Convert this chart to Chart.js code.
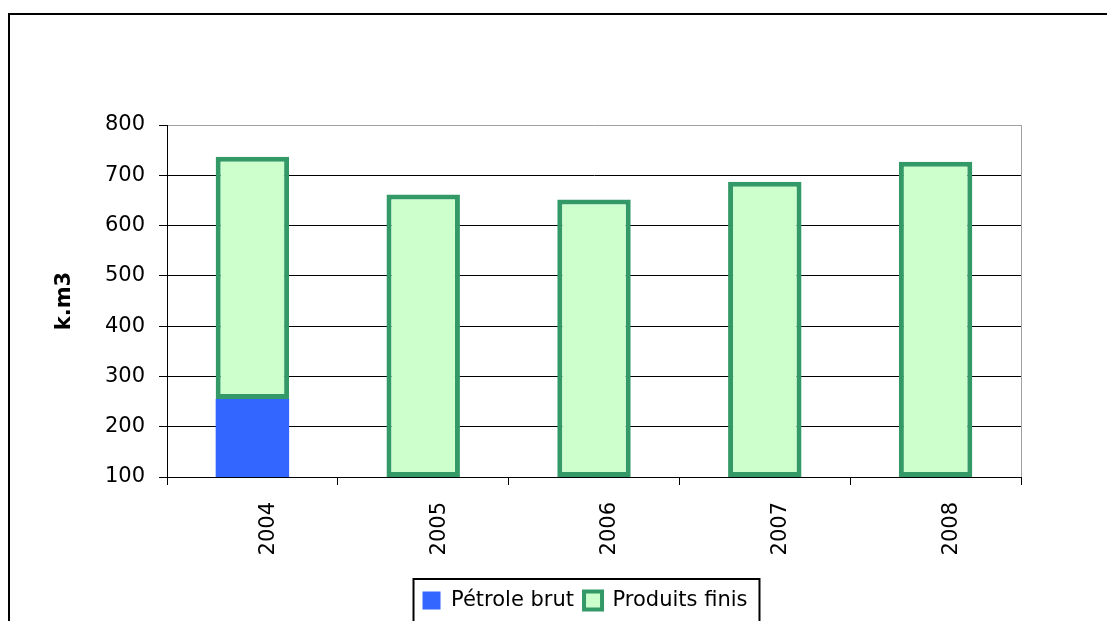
<!DOCTYPE html>
<html>
<head>
<meta charset="utf-8">
<script src="https://cdn.jsdelivr.net/npm/chart.js@4/dist/chart.umd.min.js"></script>
<style>
  html, body { margin: 0; padding: 0; background: #fff; }
  #wrap { width: 1107px; height: 621px; }
</style>
</head>
<body>
<div id="wrap"><canvas id="chart" width="1107" height="621"></canvas></div>
<script>
var years = ['2004', '2005', '2006', '2007', '2008'];
var petroleBrut = [255, 0, 0, 0, 0];
var produitsFinis = [482, 662, 652, 687, 727];
var yTicks = [100, 200, 300, 400, 500, 600, 700, 800];

var yMin = yTicks[0];
var yMax = yTicks[yTicks.length - 1];

// the axis starts at 100, so stacked bars are built as floating bars to keep their full border
var brutBars = petroleBrut.map(function (v) {
  return v > yMin ? [yMin, v] : null;
});
var finisBars = produitsFinis.map(function (v, i) {
  return [Math.max(petroleBrut[i], yMin), petroleBrut[i] + v];
});

Chart.defaults.font.family = "'DejaVu Sans', sans-serif";
Chart.defaults.font.size = 21;
Chart.defaults.color = '#000';

var framePlugin = {
  id: 'frame',
  afterLayout: function (chart) {
    // legend sits a little left of the plot centre
    chart.legend.left -= 9;
    chart.legend.right -= 9;
  },
  beforeDraw: function (chart) {
    var ctx = chart.ctx;
    ctx.save();
    ctx.fillStyle = '#fff';
    ctx.fillRect(0, 0, chart.width, chart.height);
    ctx.strokeStyle = '#000';
    ctx.lineWidth = 2;
    ctx.beginPath();
    ctx.moveTo(9, chart.height);
    ctx.lineTo(9, 14);
    ctx.lineTo(chart.width, 14);
    ctx.stroke();
    ctx.restore();
  },
  afterDraw: function (chart) {
    var ctx = chart.ctx;
    var a = chart.chartArea;
    ctx.save();
    // plot area right edge
    ctx.strokeStyle = '#a0a0a0';
    ctx.lineWidth = 1;
    ctx.beginPath();
    ctx.moveTo(Math.round(a.right) + 0.5, a.top);
    ctx.lineTo(Math.round(a.right) + 0.5, a.bottom);
    ctx.stroke();
    // box round the legend
    var boxes = chart.legend.legendHitBoxes;
    if (boxes && boxes.length) {
      var first = boxes[0];
      var last = boxes[boxes.length - 1];
      var l = first.left - 9;
      var r = last.left + last.width + 12;
      var t = first.top - 11;
      ctx.strokeStyle = '#000';
      ctx.lineWidth = 2;
      ctx.strokeRect(l, t, r - l, chart.height + 10 - t);
    }
    ctx.restore();
  }
};

new Chart(document.getElementById('chart'), {
  type: 'bar',
  data: {
    labels: years,
    datasets: [{
      label: 'Pétrole brut',
      data: brutBars,
      backgroundColor: '#3366FF',
      borderColor: '#3366FF',
      borderWidth: 0,
      grouped: false,
      barPercentage: 0.43,
      categoryPercentage: 1
    }, {
      label: 'Produits finis',
      data: finisBars,
      backgroundColor: '#CCFFCC',
      borderColor: '#339966',
      borderWidth: 5,
      borderSkipped: false,
      grouped: false,
      barPercentage: 0.43,
      categoryPercentage: 1
    }]
  },
  options: {
    responsive: false,
    animation: false,
    layout: {
      padding: { left: 40, right: 86, top: 125, bottom: 0 }
    },
    plugins: {
      tooltip: { enabled: false },
      legend: {
        position: 'bottom',
        fullSize: false,
        labels: {
          boxWidth: 18,
          boxHeight: 18,
          padding: 10,
          color: '#000',
          generateLabels: function (chart) {
            var items = Chart.defaults.plugins.legend.labels.generateLabels(chart);
            items.forEach(function (it) {
              it.lineWidth = it.lineWidth ? 4 : 0;
            });
            return items;
          }
        }
      }
    },
    scales: {
      x: {
        grid: {
          offset: true,
          drawOnChartArea: false,
          drawTicks: true,
          tickLength: 8,
          color: '#000'
        },
        border: { color: '#000', width: 1 },
        ticks: {
          minRotation: 90,
          maxRotation: 90,
          padding: 17,
          labelOffset: 16,
          color: '#000'
        },
        afterFit: function (scale) { scale.height = 103; }
      },
      y: {
        min: yMin,
        max: yMax,
        afterBuildTicks: function (scale) {
          scale.ticks = yTicks.map(function (v) { return { value: v }; });
        },
        grid: {
          color: function (ctx) {
            return ctx.tick && ctx.tick.value === yMax ? '#a0a0a0' : '#000';
          },
          tickColor: '#000',
          tickLength: 8,
          lineWidth: 1
        },
        border: { color: '#000', width: 1 },
        ticks: { padding: 14, color: '#000' },
        title: {
          display: true,
          text: 'k.m3',
          color: '#000',
          font: { weight: 'bold', size: 21 },
          padding: { top: 12, bottom: 0 }
        },
        afterFit: function (scale) { scale.width = 127; }
      }
    }
  },
  plugins: [framePlugin]
});
</script>
</body>
</html>
